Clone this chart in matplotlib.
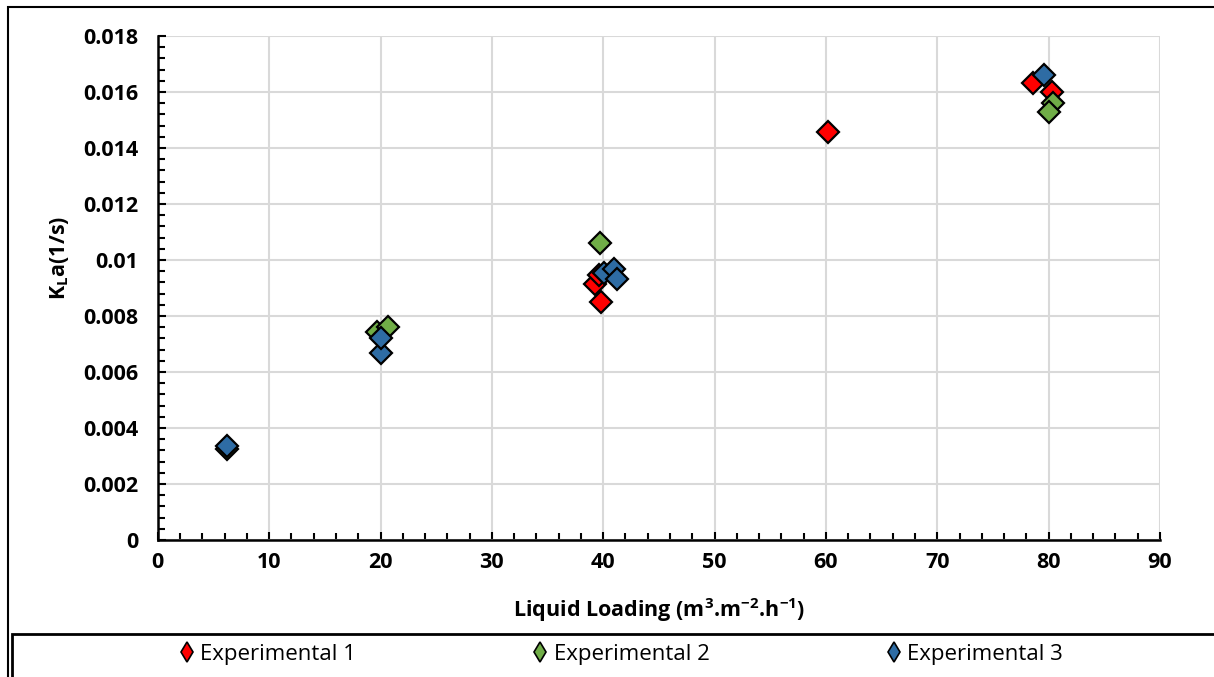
import matplotlib.pyplot as plt
from matplotlib.patches import Rectangle
from matplotlib.ticker import MultipleLocator, FormatStrFormatter

plt.rcParams['font.family'] = ['Open Sans', 'DejaVu Sans']
plt.rcParams['mathtext.fontset'] = 'custom'
plt.rcParams['mathtext.rm'] = 'Open Sans'
plt.rcParams['mathtext.bf'] = 'Open Sans:bold'

# liquid loading (m3/m2/h) and KLa (1/s) for each run
exp1_x = [60.2, 78.6, 80.3, 39.8, 39.3, 39.6]
exp1_y = [0.01458, 0.01631, 0.01599, 0.00851, 0.00913, 0.00946]

exp2_x = [6.2, 19.7, 20.7, 39.7, 80.35, 80.0]
exp2_y = [0.00325, 0.00744, 0.00762, 0.01062, 0.0156, 0.01528]

exp3_x = [6.2, 20.0, 20.0, 40.1, 41.0, 41.2, 79.6]
exp3_y = [0.00334, 0.00669, 0.00722, 0.00952, 0.00968, 0.00932, 0.01661]

series = [
    ('Experimental 1', exp1_x, exp1_y, '#ff0000'),
    ('Experimental 2', exp2_x, exp2_y, '#70ad47'),
    ('Experimental 3', exp3_x, exp3_y, '#2e6ca4'),
]

fig = plt.figure(figsize=(12.14, 6.77), dpi=100)
ax = fig.add_axes([0.130, 0.2024, 0.8255, 0.7444])

for name, xs, ys, col in series:
    ax.plot(xs, ys, 'D', ms=10.8, mfc=col, mec='black', mew=1.6,
            label=name, zorder=3)

ax.set_xlim(0, 90)
ax.set_ylim(0, 0.018)
ax.xaxis.set_major_locator(MultipleLocator(10))
ax.xaxis.set_minor_locator(MultipleLocator(2))
ax.yaxis.set_major_locator(MultipleLocator(0.002))
ax.yaxis.set_minor_locator(MultipleLocator(0.0004))
ax.yaxis.set_major_formatter(FormatStrFormatter('%g'))
ax.grid(True, which='major', color='#d9d9d9', lw=1.5, zorder=0)

for side in ['top', 'right']:
    ax.spines[side].set_visible(False)
for side in ['left', 'bottom']:
    ax.spines[side].set_linewidth(1.8)

ax.tick_params(which='both', direction='in', width=1.5, labelsize=15.5)
ax.tick_params(axis='y', which='major', length=6, pad=14)
ax.tick_params(axis='x', which='major', length=6, pad=9)
ax.tick_params(which='minor', length=5)
for lbl in ax.get_xticklabels() + ax.get_yticklabels():
    lbl.set_fontweight('bold')

ax.set_xlabel('Liquid Loading (m$^\\mathbf{3}$.m$^\\mathbf{{-}2}$.h$^\\mathbf{{-}1}$)',
              fontsize=15.5, fontweight='bold', labelpad=16)
ax.set_ylabel('K$_\\mathbf{L}$a(1/s)', fontsize=15.5, fontweight='bold')
ax.yaxis.set_label_coords(-0.087, 0.56)

# outer chart frame and legend box
fig.patches.append(Rectangle((0.0066, -0.1), 1.2, 1.0897, transform=fig.transFigure,
                             fill=False, ec='black', lw=1.5))
fig.patches.append(Rectangle((0.0099, -0.1), 1.2, 0.1635, transform=fig.transFigure,
                             fill=False, ec='black', lw=2))

leg = fig.legend(loc='center', bbox_to_anchor=(0.512, 0.033), ncol=3, frameon=False,
                 fontsize=16, handlelength=0.6, handletextpad=0.3,
                 columnspacing=8.0)
for h in leg.legend_handles:
    h.set_marker('d')
    h.set_markersize(10)
    h.set_markeredgewidth(1.2)

fig.savefig('out.png', dpi=100)
